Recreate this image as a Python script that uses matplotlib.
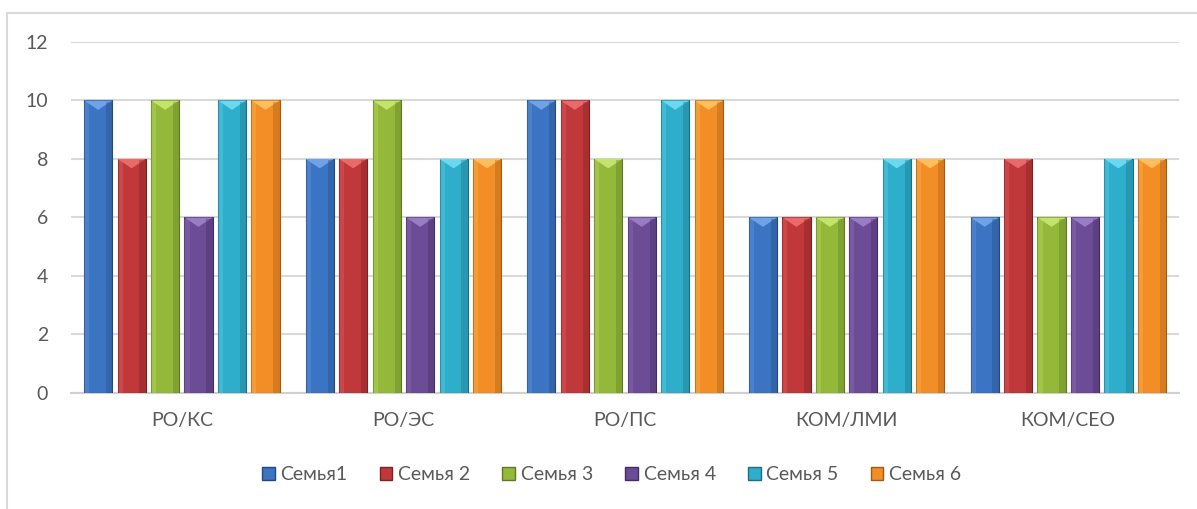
import numpy as np
import matplotlib.pyplot as plt
from matplotlib.patches import Patch, Rectangle, Polygon

categories = ["РО/КС", "РО/ЭС", "РО/ПС", "КОМ/ЛМИ", "КОМ/СЕО"]
series_names = ["Семья1", "Семья 2", "Семья 3", "Семья 4", "Семья 5", "Семья 6"]
family1 = [10, 8, 10, 6, 6]
family2 = [8, 8, 10, 6, 8]
family3 = [10, 10, 8, 6, 6]
family4 = [6, 6, 6, 6, 6]
family5 = [10, 8, 10, 8, 8]
family6 = [10, 8, 10, 8, 8]
yticks = [0, 2, 4, 6, 8, 10, 12]

colors = ["#3b74c2", "#c0383a", "#93b83a", "#6c4b97", "#2eaecb", "#f28e25"]
edges = ["#24497c", "#7c2022", "#5d7a22", "#432d60", "#1b6f83", "#a35a12"]
lights = ["#6fa2e6", "#ea6a6c", "#c4e36c", "#9a7cc4", "#6ad8ef", "#ffbe5c"]

plt.rcParams['font.family'] = ['Lato', 'DejaVu Sans']
text_color = "#595959"

fig = plt.figure(figsize=(11.97, 5.09), dpi=100)
ax = fig.add_axes([0.0593, 0.2279, 0.9257, 0.6896])

x = np.arange(len(categories))
width = 0.127
step = 0.151
all_series = [family1, family2, family3, family4, family5, family6]

for i, vals in enumerate(all_series):
    bars = ax.bar(x + (i - 2.5) * step, vals, width, color=colors[i],
                  edgecolor=edges[i], linewidth=0.8, zorder=3)
    # bevel look: light triangle on top, darker strip on the right side
    for b in bars:
        bx, bw, bh = b.get_x(), b.get_width(), b.get_height()
        tri = Polygon([[bx, bh], [bx + bw, bh], [bx + bw / 2, bh - 0.32]],
                      closed=True, facecolor=lights[i], edgecolor='none', zorder=4)
        ax.add_patch(tri)
        ax.add_patch(Rectangle((bx + bw * 0.78, 0), bw * 0.22, bh - 0.05,
                               facecolor=edges[i], alpha=0.35, edgecolor='none', zorder=4))
        ax.add_patch(Rectangle((bx, 0), bw * 0.18, bh - 0.05,
                               facecolor=lights[i], alpha=0.3, edgecolor='none', zorder=4))

ax.set_xlim(-0.5, len(categories) - 0.5)
ax.set_ylim(0, 12)
ax.set_yticks(yticks)
ax.set_xticks(x)
ax.set_xticklabels(categories)
ax.tick_params(axis='both', length=0, labelsize=14, colors=text_color)
ax.tick_params(axis='y', pad=16.5)
ax.tick_params(axis='x', pad=14)
ax.grid(axis='y', color='#d9d9d9', linewidth=1.5, zorder=0)
for side in ['top', 'right', 'left']:
    ax.spines[side].set_visible(False)
ax.spines['bottom'].set_color('#d0d0d0')
ax.spines['bottom'].set_linewidth(1.5)

handles = [Patch(facecolor=colors[i], edgecolor=edges[i], label=series_names[i])
           for i in range(len(series_names))]
leg = fig.legend(handles=handles, loc='center', bbox_to_anchor=(0.511, 0.067),
                 ncol=6, frameon=False, fontsize=14, handlelength=0.65,
                 handleheight=0.65, handletextpad=0.3, columnspacing=1.65)
for t in leg.get_texts():
    t.set_color(text_color)

fig.add_artist(Rectangle((7 / 1197, -0.1), 1.2, 1 - 13 / 509 + 0.1,
                         transform=fig.transFigure, fill=False,
                         edgecolor='#d9d9d9', linewidth=1.5))

fig.savefig("out.png", dpi=100)
